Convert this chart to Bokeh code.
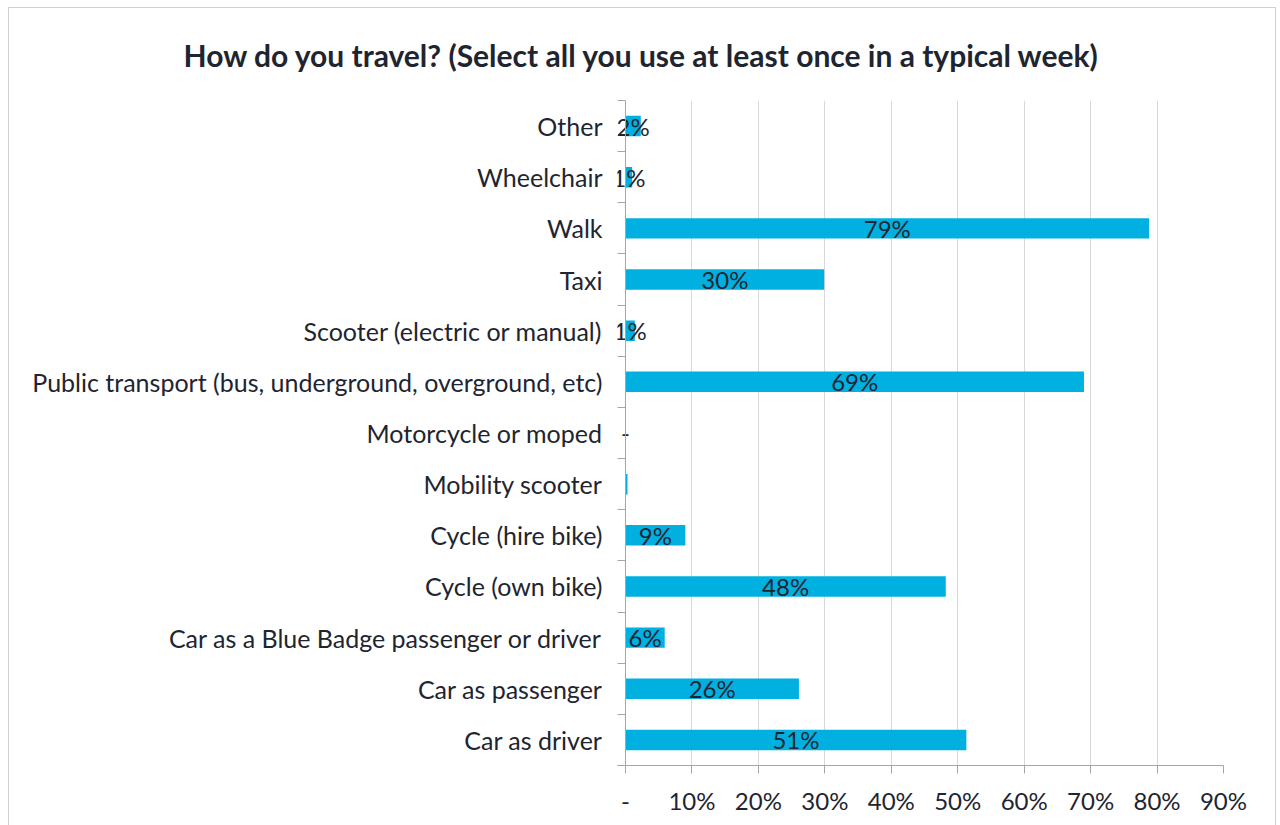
from bokeh.plotting import figure
from bokeh.models import Range1d, FixedTicker, ColumnDataSource, Title, Span
from bokeh.core.properties import value
from bokeh.embed import file_html
from bokeh.resources import INLINE

# Data (bottom to top)
categories = [
    "Car as driver",
    "Car as passenger",
    "Car as a Blue Badge passenger or driver",
    "Cycle (own bike)",
    "Cycle (hire bike)",
    "Mobility scooter",
    "Motorcycle or moped",
    "Public transport (bus, underground, overground, etc)",
    "Scooter (electric or manual)",
    "Taxi",
    "Walk",
    "Wheelchair",
    "Other",
]
percent = [51.3, 26.1, 5.9, 48.2, 9.0, 0.3, 0.0, 69.0, 1.4, 29.9, 78.8, 1.0, 2.3]
bar_labels = ["51%", "26%", "6%", "48%", "9%", "", "-", "69%", "1%", "30%", "79%", "1%", "2%"]
x_ticks = [0, 10, 20, 30, 40, 50, 60, 70, 80, 90]
x_tick_labels = ["-", "10%", "20%", "30%", "40%", "50%", "60%", "70%", "80%", "90%"]
title_text = "How do you travel? (Select all you use at least once in a typical week)"

FONT = "Lato"
TXT = "#1e2530"
BAR = "#00B0E0"
AX = "#a6a6a6"

n = len(categories)
ypos = [i + 0.5 for i in range(n)]

src = ColumnDataSource(dict(y=ypos, v=percent, half=[v / 2 for v in percent], lab=bar_labels))

# frame extends 8px left of the zero line so the category boundary ticks sit outside it
x_left = -8 / (597 / 90.0)

p = figure(
    width=1268, height=818,
    x_range=Range1d(x_left, 90), y_range=Range1d(0, n),
    output_backend="svg", toolbar_location=None,
    min_border_left=608, min_border_right=54, min_border_top=92, min_border_bottom=61,
)
p.margin = (7, 0, 0, 8)
p.styles = {"border": "1px solid #d0d0d0", "border-bottom": "none"}
p.outline_line_color = None
p.background_fill_color = "white"
p.border_fill_color = "white"

p.xgrid.grid_line_color = "#d9d9d9"
p.xgrid.ticker = FixedTicker(ticks=x_ticks)
p.ygrid.grid_line_color = None

p.add_layout(Span(location=0, dimension="height", line_color=AX, line_width=1))

p.hbar(y="y", right="v", left=0, height=0.4, source=src, fill_color=BAR, line_color=None)
p.text(x="half", y="y", text="lab", source=src, text_align="center", text_baseline="middle",
       text_font=value(FONT), text_font_size="24px", text_color=TXT)

# x axis
xa = p.xaxis[0]
xa.ticker = FixedTicker(ticks=x_ticks)
xa.major_label_overrides = {t: l for t, l in zip(x_ticks, x_tick_labels)}
xa.major_label_text_font = FONT
xa.major_label_text_font_size = "24px"
xa.major_label_text_color = TXT
xa.major_label_standoff = 12
xa.axis_line_color = AX
xa.major_tick_line_color = AX
xa.major_tick_out = 8
xa.major_tick_in = 0
xa.minor_tick_line_color = None

# y axis
ya = p.yaxis[0]
ya.ticker = FixedTicker(ticks=ypos, minor_ticks=list(range(n + 1)))
ya.major_label_overrides = {y: c for y, c in zip(ypos, categories)}
ya.major_label_text_font = FONT
ya.major_label_text_font_size = "25px"
ya.major_label_text_color = TXT
ya.major_label_standoff = 15
ya.axis_line_color = None
ya.major_tick_line_color = None
ya.major_tick_out = 0
ya.major_tick_in = 0
ya.minor_tick_line_color = AX
ya.minor_tick_out = 0
ya.minor_tick_in = 8

# title centered over the whole chart (offset relative to the frame's left edge)
p.add_layout(Title(text=title_text, align="left", offset=-434, text_font=FONT,
                   text_font_size="30px", text_font_style="bold", text_color=TXT,
                   vertical_align="middle", standoff=53), "above")

open("out.html", "w").write(file_html(p, INLINE))
